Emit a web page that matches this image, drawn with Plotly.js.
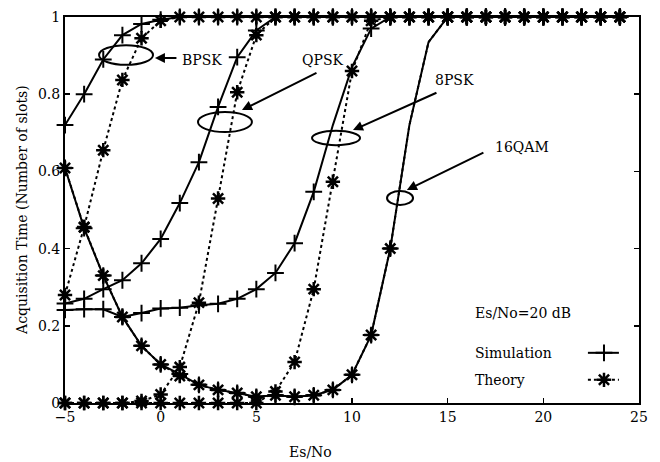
<!DOCTYPE html>
<html>
<head>
<meta charset="utf-8">
<script src="https://cdn.plot.ly/plotly-3.0.1.min.js"></script>
<style>html,body{margin:0;padding:0;background:#fff;}#chart{width:660px;height:462px;}</style>
</head>
<body>
<div id="chart"></div>
<script>
// Es/No values (dB)
var esno = [-5,-4,-3,-2,-1,0,1,2,3,4,5,6,7,8,9,10,11,12,13,14,15,16,17,18,19,20,21,22,23,24];

var bpskSim = [0.72,0.80,0.89,0.953,0.982,0.993,1,1,1,1,1,1,1,1,1,1,1,1,1,1,1,1,1,1,1,1,1,1,1,1];
var bpskTheory = [0.28,0.456,0.655,0.837,0.945,0.99,1,1,1,1,1,1,1,1,1,1,1,1,1,1,1,1,1,1,1,1,1,1,1,1];
var qpskSim = [0.258,0.27,0.295,0.318,0.362,0.425,0.518,0.624,0.767,0.896,0.965,1,1,1,1,1,1,1,1,1,1,1,1,1,1,1,1,1,1,1];
var qpskTheory = [0,0,0,0,0.005,0.022,0.093,0.26,0.53,0.805,0.953,1,1,1,1,1,1,1,1,1,1,1,1,1,1,1,1,1,1,1];
var psk8Sim = [0.241,0.243,0.243,0.223,0.233,0.245,0.247,0.253,0.257,0.27,0.295,0.337,0.414,0.547,0.72,0.87,0.97,1,1,1,1,1,1,1,1,1,1,1,1,1];
var psk8Theory = [0,0,0,0,0,0,0,0,0,0,0,0.03,0.106,0.295,0.573,0.86,0.99,1,1,1,1,1,1,1,1,1,1,1,1,1];
var qam16Sim = [0.609,0.453,0.33,0.223,0.148,0.10,0.075,0.047,0.034,0.026,0.016,0.02,0.016,0.02,0.034,0.073,0.176,0.40,0.72,0.935,1,1,1,1,1,1,1,1,1,1];
var qam16Theory = [0.609,0.455,0.33,0.223,0.148,0.10,0.07,0.047,0.034,0.026,0.016,0.02,0.016,0.02,0.034,0.073,0.176,0.40,0.72,0.935,1,1,1,1,1,1,1,1,1,1];

var xTicks = [-5,0,5,10,15,20,25];
var yTicks = [0,0.2,0.4,0.6,0.8,1];
var yTickText = ['0','0.2','0.4','0.6','0.8','1'];

var FONT = 'DejaVu Serif, serif';
var PLUS = 12, STAR = 12;

var SIM_LINE = {color:'#000', width:2};
var TH_LINE = {color:'#000', width:2, dash:'dot'};
var SIM_MARK = {symbol:'cross-thin-open', size:PLUS, color:'#000', line:{color:'#000', width:2}};
var TH_MARK = {symbol:'asterisk-open', size:STAR, color:'#000', line:{color:'#000', width:2.5}};

// a series = a line trace through all points + a marker trace (skipping points that
// show as bare line in the reference)
function series(y, lineStyle, markStyle, hidden){
  hidden = hidden || [];
  var mx = [], my = [];
  esno.forEach(function(v, i){ if (hidden.indexOf(v) < 0){ mx.push(v); my.push(y[i]); } });
  return [
    {x: esno, y: y, type:'scatter', mode:'lines', line: lineStyle, showlegend:false, hoverinfo:'skip'},
    {x: mx, y: my, type:'scatter', mode:'markers', cliponaxis:false, marker: markStyle, showlegend:false, hoverinfo:'skip'}
  ];
}

var data = [].concat(
  series(qpskTheory, TH_LINE, TH_MARK),
  series(psk8Theory, TH_LINE, TH_MARK),
  series(bpskTheory, TH_LINE, TH_MARK),
  series(qam16Theory, TH_LINE, TH_MARK, [13,14]),
  series(bpskSim, SIM_LINE, SIM_MARK),
  series(qpskSim, SIM_LINE, SIM_MARK),
  series(psk8Sim, SIM_LINE, SIM_MARK, [9,10]),
  series(qam16Sim, SIM_LINE, SIM_MARK, [13,14]),
  [
    // key samples
    {x:[22.33,23.95], y:[0.13,0.13], type:'scatter', mode:'lines', line:SIM_LINE, showlegend:false, hoverinfo:'skip'},
    {x:[23.17], y:[0.13], type:'scatter', mode:'markers', cliponaxis:false, marker:SIM_MARK, showlegend:false, hoverinfo:'skip'},
    {x:[22.33,23.95], y:[0.06,0.06], type:'scatter', mode:'lines', line:TH_LINE, showlegend:false, hoverinfo:'skip'},
    {x:[23.17], y:[0.06], type:'scatter', mode:'markers', cliponaxis:false, marker:TH_MARK, showlegend:false, hoverinfo:'skip'}
  ]
);

function ell(x0,x1,y0,y1){
  return {type:'circle', xref:'x', yref:'y', x0:x0, x1:x1, y0:y0, y1:y1, line:{color:'#000', width:2}};
}
function label(t,x,y){
  return {text:t, x:x, y:y, xref:'x', yref:'y', xanchor:'left', yanchor:'middle', showarrow:false,
    font:{family:FONT, size:14, color:'#000'}};
}
function arrow(x,y,ax,ay){
  return {text:'', x:x, y:y, xref:'x', yref:'y', ax:ax, ay:ay, showarrow:true,
    arrowhead:2, arrowsize:1, arrowwidth:2, arrowcolor:'#000'};
}

var layout = {
  width:660, height:462,
  margin:{l:65, r:21, t:17, b:59},
  paper_bgcolor:'#fff', plot_bgcolor:'#fff',
  font:{family:FONT, size:14, color:'#000'},
  showlegend:false,
  xaxis:{range:[-5,25], tickvals:xTicks, showgrid:false, zeroline:false,
    showline:true, mirror:'ticks', linecolor:'#000', linewidth:2,
    ticks:'inside', ticklen:5, tickwidth:1.5, tickcolor:'#000',
    tickfont:{family:FONT, size:14, color:'#000'}},
  yaxis:{range:[0,1], tickvals:yTicks, ticktext:yTickText, showgrid:false, zeroline:false,
    showline:true, mirror:'ticks', linecolor:'#000', linewidth:2,
    ticks:'inside', ticklen:5, tickwidth:1.5, tickcolor:'#000',
    tickfont:{family:FONT, size:14, color:'#000'}},
  shapes:[
    ell(-3.22,-0.40,0.876,0.927),
    ell(1.95,4.77,0.702,0.754),
    ell(7.91,10.42,0.668,0.705),
    ell(11.83,13.19,0.513,0.549)
  ],
  annotations:[
    label('BPSK',1.01,0.889),
    arrow(-0.30,0.894,23,0),
    label('QPSK',7.28,0.889),
    arrow(4.25,0.759,76,-38),
    label('8PSK',14.23,0.837),
    arrow(10.05,0.707,85,-38),
    label('16QAM',17.37,0.663),
    arrow(12.87,0.552,78,-38),
    label('Es/No=20 dB',16.32,0.233),
    label('Simulation',16.32,0.13),
    label('Theory',16.32,0.06),
    {text:'Es/No', xref:'paper', yref:'paper', x:0.427, y:-0.127, xanchor:'center', yanchor:'middle',
     showarrow:false, font:{family:FONT, size:14, color:'#000'}},
    {text:'Acquisition Time (Number of slots)', xref:'paper', yref:'paper', x:-0.075, y:0.5,
     xanchor:'center', yanchor:'middle', textangle:-90, showarrow:false, font:{family:FONT, size:14, color:'#000'}}
  ]
};

Plotly.newPlot('chart', data, layout, {displayModeBar:false, staticPlot:true});
</script>
</body>
</html>
